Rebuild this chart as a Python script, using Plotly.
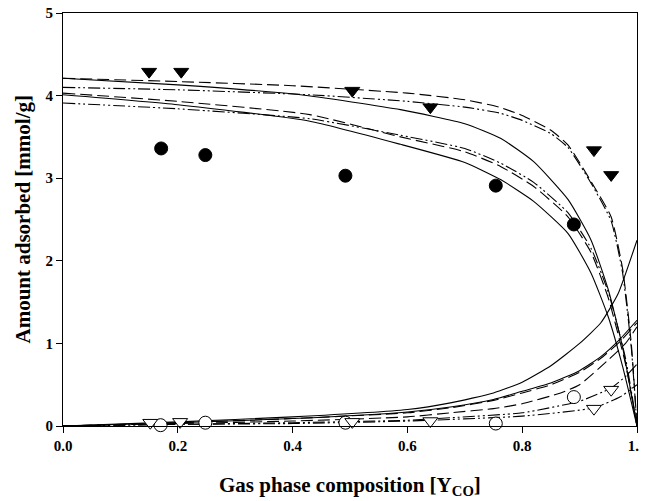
import plotly.graph_objects as go

# ---- experimental points ----
tri_fill_x = [0.150, 0.206, 0.504, 0.640, 0.925, 0.955]
tri_fill_y = [4.29, 4.29, 4.06, 3.86, 3.34, 3.04]
circ_fill_x = [0.171, 0.248, 0.492, 0.754, 0.890]
circ_fill_y = [3.36, 3.28, 3.03, 2.91, 2.44]
circ_open_x = [0.170, 0.248, 0.492, 0.754, 0.890]
circ_open_y = [0.01, 0.04, 0.04, 0.03, 0.35]
tri_open_x = [0.152, 0.204, 0.504, 0.640, 0.925, 0.955]
tri_open_y = [0.04, 0.05, 0.05, 0.06, 0.21, 0.44]

# ---- model curves ----
topdash_x = [0, 0.2, 0.4, 0.6, 0.7, 0.76, 0.8, 0.85, 0.88, 0.92, 0.955, 0.975, 0.99, 1.0]
topdash_y = [4.21, 4.17, 4.12, 4.03, 3.95, 3.86, 3.76, 3.58, 3.40, 2.96, 2.53, 1.90, 1.00, 0.0]
topddot_x = [0, 0.2, 0.43, 0.6, 0.7, 0.76, 0.8, 0.85, 0.88, 0.92, 0.955, 0.975, 0.99, 1.0]
topddot_y = [4.10, 4.07, 4.01, 3.93, 3.86, 3.79, 3.70, 3.54, 3.37, 2.94, 2.48, 1.85, 0.95, 0.0]
topsolid_x = [0, 0.2, 0.414, 0.588, 0.7, 0.763, 0.82, 0.88, 0.92, 0.95, 0.975, 1.0]
topsolid_y = [4.21, 4.13, 4.01, 3.83, 3.66, 3.48, 3.20, 2.74, 2.25, 1.65, 0.95, 0.0]
lowdash_x = [0, 0.2, 0.43, 0.588, 0.7, 0.763, 0.82, 0.88, 0.92, 0.95, 0.98, 1.0]
lowdash_y = [4.03, 3.93, 3.77, 3.50, 3.32, 3.14, 2.90, 2.53, 2.10, 1.55, 0.75, 0.0]
lowddot_x = [0, 0.2, 0.43, 0.588, 0.7, 0.763, 0.82, 0.88, 0.92, 0.95, 0.98, 1.0]
lowddot_y = [3.91, 3.84, 3.72, 3.52, 3.36, 3.18, 2.95, 2.58, 2.15, 1.62, 0.82, 0.0]
lowsolid_x = [0, 0.2, 0.43, 0.588, 0.7, 0.763, 0.82, 0.88, 0.92, 0.95, 0.975, 1.0]
lowsolid_y = [4.01, 3.89, 3.69, 3.41, 3.19, 2.98, 2.72, 2.33, 1.85, 1.32, 0.72, 0.0]

rise1_x = [0, 0.2, 0.4, 0.6, 0.675, 0.75, 0.8, 0.85, 0.9, 0.937, 0.967, 1.0]
rise1_y = [0.0, 0.05, 0.11, 0.20, 0.28, 0.40, 0.53, 0.73, 1.00, 1.25, 1.60, 2.25]
rise2_x = [0, 0.2, 0.4, 0.6, 0.675, 0.75, 0.8, 0.85, 0.9, 0.937, 0.97, 1.0]
rise2_y = [0.0, 0.04, 0.09, 0.17, 0.23, 0.32, 0.42, 0.52, 0.67, 0.84, 1.05, 1.28]
rise3_x = [0, 0.2, 0.4, 0.6, 0.675, 0.75, 0.8, 0.85, 0.9, 0.937, 0.97, 1.0]
rise3_y = [0.0, 0.04, 0.09, 0.16, 0.22, 0.31, 0.40, 0.50, 0.65, 0.82, 1.02, 1.25]
rise4_x = [0, 0.2, 0.4, 0.6, 0.675, 0.75, 0.8, 0.867, 0.9, 0.95, 0.98, 1.0]
rise4_y = [0.0, 0.03, 0.06, 0.11, 0.16, 0.21, 0.27, 0.40, 0.50, 0.80, 1.00, 1.20]
rise5_x = [0, 0.2, 0.4, 0.6, 0.675, 0.8, 0.9, 0.955, 0.98, 1.0]
rise5_y = [0.0, 0.02, 0.04, 0.07, 0.10, 0.16, 0.30, 0.46, 0.60, 0.75]
rise6_x = [0, 0.2, 0.4, 0.6, 0.8, 0.925, 0.97, 1.0]
rise6_y = [0.0, 0.02, 0.03, 0.06, 0.12, 0.22, 0.35, 0.50]

DASH = "12px,5px"
DDOT = "12px,3px,2px,3px,2px,3px"

fig = go.Figure()

def curve(x, y, dash):
    fig.add_trace(go.Scatter(x=x, y=y, mode="lines",
                             line=dict(color="black", width=1.1, dash=dash, shape="spline", smoothing=0.5),
                             showlegend=False, hoverinfo="skip"))

curve(topdash_x, topdash_y, DASH)
curve(topddot_x, topddot_y, DDOT)
curve(topsolid_x, topsolid_y, "solid")
curve(lowdash_x, lowdash_y, DASH)
curve(lowddot_x, lowddot_y, DDOT)
curve(lowsolid_x, lowsolid_y, "solid")
curve(rise1_x, rise1_y, "solid")
curve(rise2_x, rise2_y, "solid")
curve(rise3_x, rise3_y, DASH)
curve(rise4_x, rise4_y, DASH)
curve(rise5_x, rise5_y, DDOT)
curve(rise6_x, rise6_y, DDOT)

def pts(x, y, symbol, fill):
    fig.add_trace(go.Scatter(x=x, y=y, mode="markers", cliponaxis=False,
                             marker=dict(symbol=symbol, size=13, color=fill,
                                         line=dict(color="black", width=1)),
                             showlegend=False))

pts(tri_fill_x, tri_fill_y, "triangle-down", "black")
pts(circ_fill_x, circ_fill_y, "circle", "black")
pts(circ_open_x, circ_open_y, "circle", "white")
pts(tri_open_x, tri_open_y, "triangle-down", "white")

font = dict(family="Liberation Serif", color="black", size=15, weight="bold")
title_font = dict(family="Liberation Serif", color="black", size=21, weight="bold")
fig.update_layout(
    width=647, height=493,
    margin=dict(l=55, r=18, t=5, b=75),
    plot_bgcolor="white", paper_bgcolor="white",
    font=font,
    xaxis=dict(range=[0, 1], tickvals=[0, 0.2, 0.4, 0.6, 0.8, 1.0],
               ticktext=["0.0", "0.2", "0.4", "0.6", "0.8", "1.0"],
               showline=True, linecolor="black", linewidth=1, mirror=True, automargin=False,
               ticklabeloverflow="allow",
               ticks="outside", ticklen=6, tickcolor="black", showgrid=False, zeroline=False),
    yaxis=dict(range=[0, 5], tickvals=[0, 1, 2, 3, 4, 5], automargin=False,
               ticklabeloverflow="allow",
               showline=True, linecolor="black", linewidth=1, mirror=True,
               ticks="outside", ticklen=6, tickcolor="black", showgrid=False, zeroline=False),
    annotations=[
        dict(text="Gas phase composition [Y<sub>CO</sub>]", xref="paper", yref="paper",
             x=0.5, y=0, yshift=-60, xanchor="center", yanchor="middle",
             showarrow=False, font=title_font),
        dict(text="Amount adsorbed [mmol/g]", xref="paper", yref="paper",
             x=0, y=0.5, xshift=-41, xanchor="center", yanchor="middle", textangle=-90,
             showarrow=False, font=title_font),
    ],
)

fig.write_html("out.html")
